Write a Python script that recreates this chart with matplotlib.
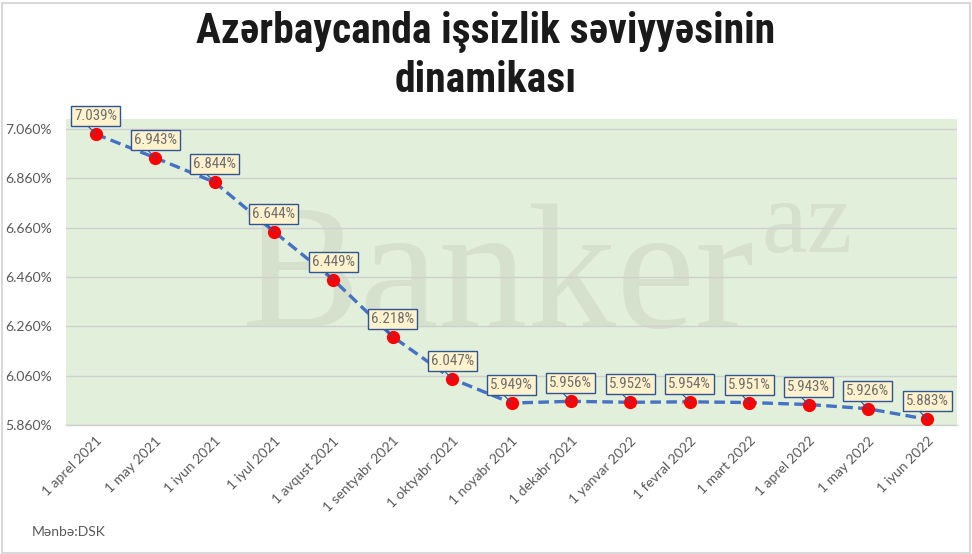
import matplotlib
matplotlib.use("Agg")
import matplotlib.pyplot as plt
from matplotlib.patches import Rectangle
from matplotlib import font_manager

categories = ["1 aprel 2021", "1 may 2021", "1 iyun 2021", "1 iyul 2021", "1 avqust 2021",
              "1 sentyabr 2021", "1 oktyabr 2021", "1 noyabr 2021", "1 dekabr 2021",
              "1 yanvar 2022", "1 fevral 2022", "1 mart 2022", "1 aprel 2022",
              "1 may 2022", "1 iyun 2022"]
values = [7.039, 6.943, 6.844, 6.644, 6.449, 6.218, 6.047, 5.949, 5.956,
          5.952, 5.954, 5.951, 5.943, 5.926, 5.883]
yticks = [5.86, 6.06, 6.26, 6.46, 6.66, 6.86, 7.06]

title = "Azərbaycanda işsizlik səviyyəsinin\ndinamikası"
source = "Mənbə:DSK"

names = {f.name for f in font_manager.fontManager.ttflist}
narrow = None
for cand in ["Liberation Sans Narrow", "DejaVu Sans Condensed", "Roboto Condensed", "Open Sans Condensed"]:
    if cand in names:
        narrow = cand
        break

W, H = 972, 554
fig = plt.figure(figsize=(W / 100, H / 100), dpi=100)
fig.patch.set_facecolor("white")

L, R, T, B = 66, 957, 119, 425
ax = fig.add_axes([L / W, 1 - B / H, (R - L) / W, (B - T) / H])
ax.set_facecolor("#E2EFDA")

x = list(range(len(categories)))
ax.set_xlim(-0.5, len(categories) - 0.5)
ax.set_ylim(5.86, 7.10)

ax.set_yticks(yticks)
ax.set_yticklabels([f"{v:.3f}%" for v in yticks], family=["Lato", "DejaVu Sans"],
                   fontsize=10, color="#595959")
ax.set_xticks(x)
ax.set_xticklabels(categories, rotation=45, ha="right", va="top", rotation_mode="anchor",
                   family=["Lato", "DejaVu Sans"], fontsize=10, color="#595959")
ax.tick_params(axis="y", length=0, pad=10)
ax.tick_params(axis="x", length=0, pad=7)
ax.grid(axis="y", color="#D0D0D0", lw=1, zorder=0.6)
ax.set_axisbelow(True)
for s in ["top", "right", "left"]:
    ax.spines[s].set_visible(False)
ax.spines["bottom"].set_color("#D0D0D0")
ax.spines["bottom"].set_linewidth(1)

# watermark
wm = "#D6E1CD"
ax.text(0.1975, 0.32, "Banker", transform=ax.transAxes, family=["Liberation Serif", "DejaVu Serif"],
        fontsize=128, color=wm, ha="left", va="baseline", zorder=0.2)
ax.text(0.781, 0.565, "az", transform=ax.transAxes, family=["Liberation Serif", "DejaVu Serif"],
        fontsize=74, color=wm, ha="left", va="baseline", zorder=0.2)

ax.plot(x, values, color="#4472C4", lw=2.4, linestyle=(0, (3.2, 1.6)), zorder=3,
        dash_capstyle="butt")
ax.plot(x, values, linestyle="none", marker="o", markersize=8.5, color="#FF0000",
        markeredgecolor="#FF0000", zorder=4)

lab_family = [narrow, "Roboto", "DejaVu Sans"] if narrow else ["Roboto", "DejaVu Sans"]
lab_size = 10.8 if narrow else 9
for xi, v in zip(x, values):
    ax.annotate(f"{v:.3f}%", xy=(xi, v), xytext=(0, 18), textcoords="offset pixels",
                ha="center", va="center", fontsize=lab_size, color="#6E6E6E",
                family=lab_family,
                bbox=dict(boxstyle="square,pad=0.2", fc="#FFF2CC", ec="#2F5597", lw=1),
                arrowprops=dict(arrowstyle="-", color="#2F5597", lw=0.8, relpos=(0.25, 0),
                                shrinkA=0, shrinkB=0),
                zorder=5)

title_family = [narrow, "DejaVu Sans"] if narrow else ["DejaVu Sans"]
title_size = 30 if narrow else 21.5
fig.text(0.5, 1 - 56 / H, title, ha="center", va="center", fontsize=title_size, fontweight="bold",
         family=title_family, color="#1A1A1A", linespacing=1.2)
fig.text(32 / W, 1 - 532 / H, source, ha="left", va="center", fontsize=10,
         family=["Lato", "DejaVu Sans"], color="#595959")

fig.patches.append(Rectangle((1.5 / W, 1.5 / H), (W - 4) / W, (H - 4) / H, transform=fig.transFigure,
                             fill=False, ec="#D9D9D9", lw=1.5))

fig.savefig("out.png", dpi=100)
